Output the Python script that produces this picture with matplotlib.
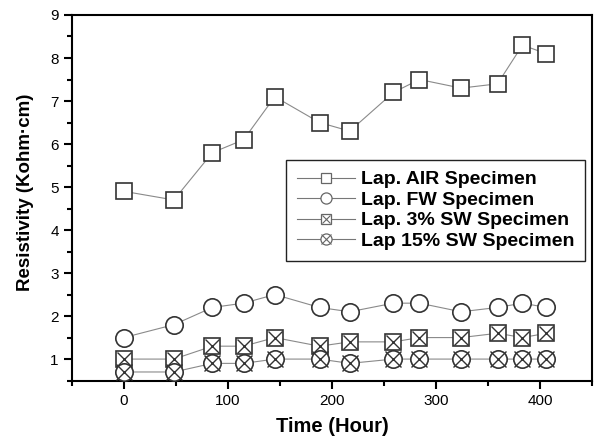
import matplotlib
matplotlib.use("Agg")
import matplotlib.pyplot as plt
from matplotlib.ticker import MultipleLocator
from matplotlib.lines import Line2D

plt.rcParams['font.family'] = ['Liberation Sans', 'DejaVu Sans']

# exposure time (hours) and resistivity (kohm*cm) per specimen
hours = [0, 48, 85, 115, 145, 188, 217, 259, 284, 324, 359, 383, 406]
air = [4.9, 4.7, 5.8, 6.1, 7.1, 6.5, 6.3, 7.2, 7.5, 7.3, 7.4, 8.3, 8.1]
fw = [1.5, 1.8, 2.2, 2.3, 2.5, 2.2, 2.1, 2.3, 2.3, 2.1, 2.2, 2.3, 2.2]
sw3 = [1.0, 1.0, 1.3, 1.3, 1.5, 1.3, 1.4, 1.4, 1.5, 1.5, 1.6, 1.5, 1.6]
sw15 = [0.7, 0.7, 0.9, 0.9, 1.0, 1.0, 0.9, 1.0, 1.0, 1.0, 1.0, 1.0, 1.0]

labels = ['Lap. AIR Specimen', 'Lap. FW Specimen',
          'Lap. 3% SW Specimen', 'Lap 15% SW Specimen']

fig = plt.figure(figsize=(5.94, 4.41), dpi=100)
ax = fig.add_axes([0.121, 0.137, 0.876, 0.829])

line_kw = dict(color='#8a8a8a', lw=0.8, zorder=1)
mk = dict(ls='none', mfc='white', mec='#333333', mew=1.2, zorder=3)
xk = dict(ls='none', marker='x', color='#333333', mew=1.0, zorder=4)

ax.plot(hours, air, **line_kw)
ax.plot(hours, air, marker='s', ms=11, **mk)

ax.plot(hours, fw, **line_kw)
ax.plot(hours, fw, marker='o', ms=12.5, **mk)

ax.plot(hours, sw3, **line_kw)
ax.plot(hours, sw3, marker='s', ms=11, **mk)
ax.plot(hours, sw3, ms=10, **xk)

ax.plot(hours, sw15, **line_kw)
ax.plot(hours, sw15, marker='o', ms=12.5, **mk)
ax.plot(hours, sw15, ms=11, **xk)

# legend glyphs: small grey markers on a thin line
lg = dict(color='#777777', lw=0.8, mfc='white', mec='#666666', mew=0.9)
h_air = Line2D([], [], marker='s', ms=7, **lg)
h_fw = Line2D([], [], marker='o', ms=8, **lg)
h_sw3 = (Line2D([], [], marker='s', ms=7, **lg),
         Line2D([], [], ls='none', marker='x', ms=6, color='#666666', mew=0.8))
h_sw15 = (Line2D([], [], marker='o', ms=8, **lg),
          Line2D([], [], ls='none', marker='x', ms=6.5, color='#666666', mew=0.8))
leg = ax.legend([h_air, h_fw, h_sw3, h_sw15], labels,
                loc='upper right', bbox_to_anchor=(0.987, 0.603),
                prop={'weight': 'bold', 'size': 14}, borderaxespad=0,
                handlelength=3.0, handletextpad=0.3, labelspacing=0.15,
                fancybox=False, framealpha=1, edgecolor='#222222', borderpad=0.55)
leg.get_frame().set_linewidth(1.0)

ax.set_xlim(-50, 450)
ax.set_ylim(0.5, 9)
ax.xaxis.set_major_locator(MultipleLocator(100))
ax.xaxis.set_minor_locator(MultipleLocator(50))
ax.yaxis.set_minor_locator(MultipleLocator(0.5))
ax.set_yticks(range(1, 10))

for s in ax.spines.values():
    s.set_linewidth(1.5)
ax.tick_params(which='major', length=6, width=1.5, labelsize=11, direction='out')
ax.tick_params(which='minor', length=3.5, width=1.5, direction='out')

ax.set_xlabel('Time (Hour)', fontsize=14.5, fontweight='bold', labelpad=7)
ax.set_ylabel('Resistivity (Kohm\u00b7cm)', fontsize=13.5, fontweight='bold', labelpad=10)
ax.yaxis.set_label_coords(-0.072, 0.516)

fig.savefig('out.png', dpi=100)
